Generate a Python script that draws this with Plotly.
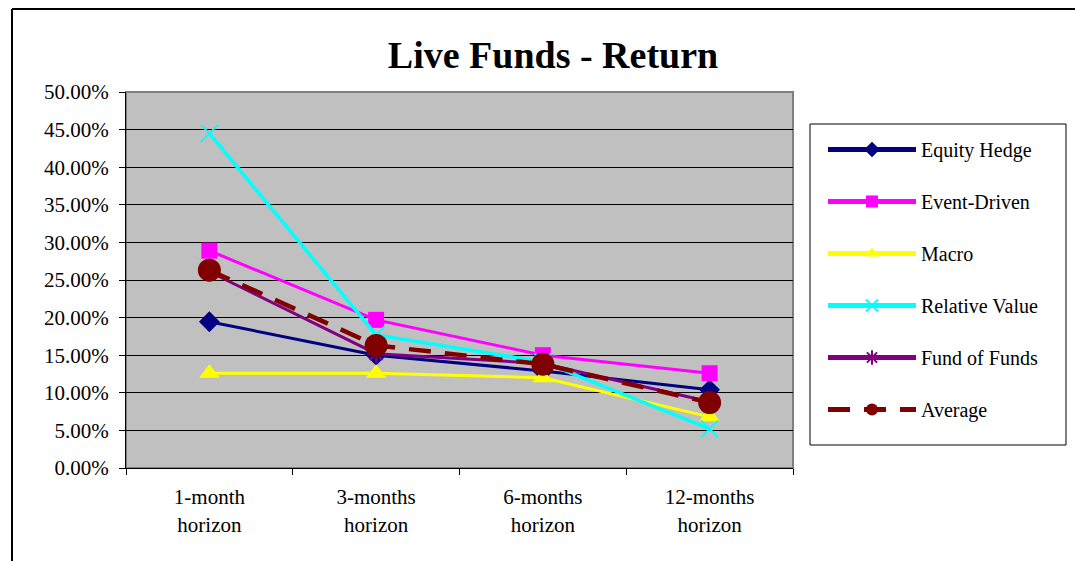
import plotly.graph_objects as go

categories = ["1-month<br>horizon", "3-months<br>horizon", "6-months<br>horizon", "12-months<br>horizon"]
equity_hedge = [0.1945, 0.150, 0.129, 0.104]
event_driven = [0.289, 0.197, 0.150, 0.126]
macro = [0.126, 0.126, 0.120, 0.068]
relative_value = [0.445, 0.177, 0.141, 0.052]
fund_of_funds = [0.261, 0.152, 0.139, 0.088]
average = [0.263, 0.163, 0.138, 0.087]
y_ticks = [0, 0.05, 0.10, 0.15, 0.20, 0.25, 0.30, 0.35, 0.40, 0.45, 0.50]

FONT = "Liberation Serif, Times New Roman, serif"

series = [
    ("Equity Hedge", equity_hedge, "#000080", "diamond", 16, 3, "solid", 0),
    ("Event-Driven", event_driven, "#FF00FF", "square", 16, 3, "solid", 0),
    ("Macro", macro, "#FFFF00", "triangle-up", 18, 3, "solid", 0),
    ("Relative Value", relative_value, "#00FFFF", "x-thin-open", 17, 3.5, "solid", 2),
    ("Fund of Funds", fund_of_funds, "#800080", "asterisk-open", 15, 3, "solid", 2),
    ("Average", average, "#800000", "circle", 23, 4.5, "dash", 0),
]

fig = go.Figure()
for name, vals, color, sym, size, lw, dash, mlw in series:
    fig.add_trace(go.Scatter(
        x=categories, y=vals, name=name, mode="lines+markers",
        legendgroup=name,
        line=dict(color=color, width=lw, dash=("22px,14px" if dash == "dash" else "solid")),
        marker=dict(symbol=sym, size=size, color=color,
                    line=dict(color=color, width=mlw)),
    ))

# plot area pixel geometry
L, R, T, B = 126, 793, 92, 468
W, H = R - L, B - T
def px(X):
    return (X - L) / W
def py(Y):
    return (B - Y) / H

shapes = [
    dict(type="rect", xref="paper", yref="paper", x0=0, x1=1, y0=0, y1=1,
         line=dict(color="#808080", width=2), layer="below"),
    dict(type="line", xref="paper", yref="paper", x0=px(12), x1=px(1080), y0=py(9), y1=py(9),
         line=dict(color="black", width=2)),
    dict(type="line", xref="paper", yref="paper", x0=px(12), x1=px(12), y0=py(9), y1=py(570),
         line=dict(color="black", width=2)),
    # legend frame
    dict(type="rect", xref="paper", yref="paper", x0=px(810), x1=px(1066), y0=py(124), y1=py(445),
         line=dict(color="black", width=1), fillcolor="white", layer="above"),
]

fig.update_layout(
    width=1075, height=561,
    margin=dict(l=L, r=1075 - R, t=T, b=561 - B),
    paper_bgcolor="white",
    plot_bgcolor="#C0C0C0",
    font=dict(family=FONT, size=20, color="black"),
    title=dict(text="<b>Live Funds - Return</b>", x=553 / 1075, xanchor="center",
               y=1 - 55 / 561, yanchor="middle", yref="container",
               font=dict(family=FONT, size=38, color="black")),
    showlegend=True,
    legend=dict(
        x=px(823), y=py(130), xanchor="left", yanchor="top",
        bgcolor="rgba(0,0,0,0)", borderwidth=0,
        font=dict(family=FONT, size=20, color="black"),
        tracegroupgap=23, itemwidth=88,
        traceorder="grouped", itemsizing="constant",
    ),
    shapes=shapes,
    xaxis=dict(
        type="category", range=[-0.5, 3.5], showgrid=False,
        showline=True, linecolor="black", linewidth=1,
        ticks="outside", tickson="boundaries", ticklen=6, tickcolor="black",
        ticklabelstandoff=10,
        tickfont=dict(family=FONT, size=21), zeroline=False, fixedrange=True,
    ),
    yaxis=dict(
        range=[0, 0.5], tickvals=y_ticks, tickformat=".2%",
        showgrid=True, gridcolor="black", gridwidth=1,
        showline=True, linecolor="black", linewidth=1,
        ticks="outside", ticklen=6, tickcolor="black",
        ticklabelstandoff=6,
        tickfont=dict(family=FONT, size=21), zeroline=False, fixedrange=True,
    ),
)

fig.write_html("out.html")
